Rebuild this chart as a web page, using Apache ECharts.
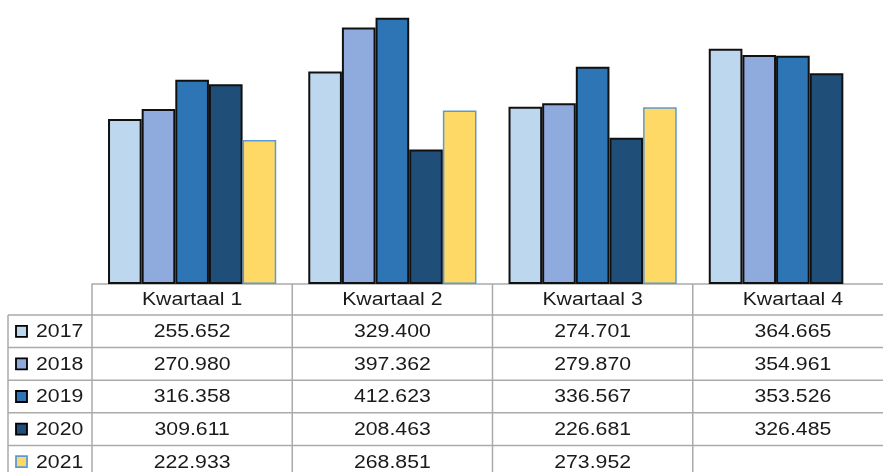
<!DOCTYPE html>
<html>
<head>
<meta charset="utf-8">
<script src="https://cdn.jsdelivr.net/npm/echarts@6/dist/echarts.min.js"></script>
<style>
  html, body { margin: 0; padding: 0; background: #fff; }
  #chart { width: 883px; height: 472px; }
</style>
</head>
<body>
<div id="chart"></div>
<script>
// data
const categories = ['Kwartaal 1', 'Kwartaal 2', 'Kwartaal 3', 'Kwartaal 4'];
const years = ['2017', '2018', '2019', '2020', '2021'];
const v2017 = [255652, 329400, 274701, 364665];
const v2018 = [270980, 397362, 279870, 354961];
const v2019 = [316358, 412623, 336567, 353526];
const v2020 = [309611, 208463, 226681, 326485];
const v2021 = [222933, 268851, 273952, null];
const allValues = [v2017, v2018, v2019, v2020, v2021];

const fills = ['#bdd7ee', '#8faadc', '#2e75b6', '#1f4e79', '#ffd966'];
const borders = ['#111', '#111', '#111', '#111', '#5b9bd5'];

const FONT = '"Liberation Sans", Arial, sans-serif';
const lineColor = '#aaaaaa';

// 255652 -> "255.652"
const fmt = (v) => {
  if (v == null) return '';
  return String(v).replace(/\B(?=(\d{3})+(?!\d))/g, '.');
};

const chart = echarts.init(document.getElementById('chart'));

const option = {
  animation: false,
  // plot continues past the right edge (last column is cut off)
  grid: { left: 92, right: -10, top: 0, bottom: 188, outerBoundsMode: 'none' },
  xAxis: {
    type: 'category',
    data: categories,
    axisLine: { show: true, lineStyle: { color: lineColor, width: 1.5 } },
    axisTick: { show: false },
    axisLabel: { show: false }
  },
  yAxis: {
    type: 'value',
    min: 0,
    max: 440000,
    show: false
  },
  series: years.map((y, i) => ({
    name: y,
    type: 'bar',
    barGap: '0%',
    barCategoryGap: '16%',
    data: allValues[i],
    itemStyle: {
      color: fills[i],
      borderColor: borders[i],
      borderWidth: i === 4 ? 1.5 : 2
    }
  }))
};
chart.setOption(option);

// table under the bars
const c0 = chart.convertToPixel({ xAxisIndex: 0 }, 0);
const c1 = chart.convertToPixel({ xAxisIndex: 0 }, 1);
const band = c1 - c0;
const axisY = chart.convertToPixel({ yAxisIndex: 0 }, 0);
const rowTop = axisY + 31;
const rowH = 32.6;
const tableLeft = 8;
const labelRight = c0 - band / 2;

const graphics = [];
const textStyle = (txt, align) => ({
  text: txt,
  align: align,
  verticalAlign: 'middle',
  fontSize: 18,
  fontFamily: FONT,
  fill: '#1a1a1a'
});

// horizontal lines
for (let r = 0; r <= years.length; r++) {
  const y = rowTop + r * rowH;
  graphics.push({
    type: 'line',
    shape: { x1: tableLeft, y1: y, x2: 900, y2: y },
    style: { stroke: lineColor, lineWidth: 1.5 }
  });
}
// vertical lines
graphics.push({
  type: 'line',
  shape: { x1: tableLeft, y1: rowTop, x2: tableLeft, y2: 480 },
  style: { stroke: lineColor, lineWidth: 1.5 }
});
for (let c = 0; c <= categories.length; c++) {
  const x = labelRight + c * band;
  graphics.push({
    type: 'line',
    shape: { x1: x, y1: axisY, x2: x, y2: 480 },
    style: { stroke: lineColor, lineWidth: 1.5 }
  });
}

// header
categories.forEach((cat, c) => {
  graphics.push({
    type: 'text',
    x: c0 + c * band,
    y: (axisY + rowTop) / 2 + 1,
    scaleX: 1.18,
    style: textStyle(cat, 'center')
  });
});

// rows
years.forEach((yr, r) => {
  const cy = rowTop + (r + 0.5) * rowH;
  graphics.push({
    type: 'rect',
    shape: { x: 16, y: cy - 5.5, width: 11, height: 11 },
    style: { fill: fills[r], stroke: r === 4 ? borders[r] : '#000', lineWidth: 1.8 }
  });
  graphics.push({
    type: 'text',
    x: 36,
    y: cy + 1,
    scaleX: 1.18,
    style: textStyle(yr, 'left')
  });
  allValues[r].forEach((v, c) => {
    graphics.push({
      type: 'text',
      x: c0 + c * band,
      y: cy + 1,
      scaleX: 1.18,
      style: textStyle(fmt(v), 'center')
    });
  });
});

chart.setOption({ graphic: graphics });
</script>
</body>
</html>
